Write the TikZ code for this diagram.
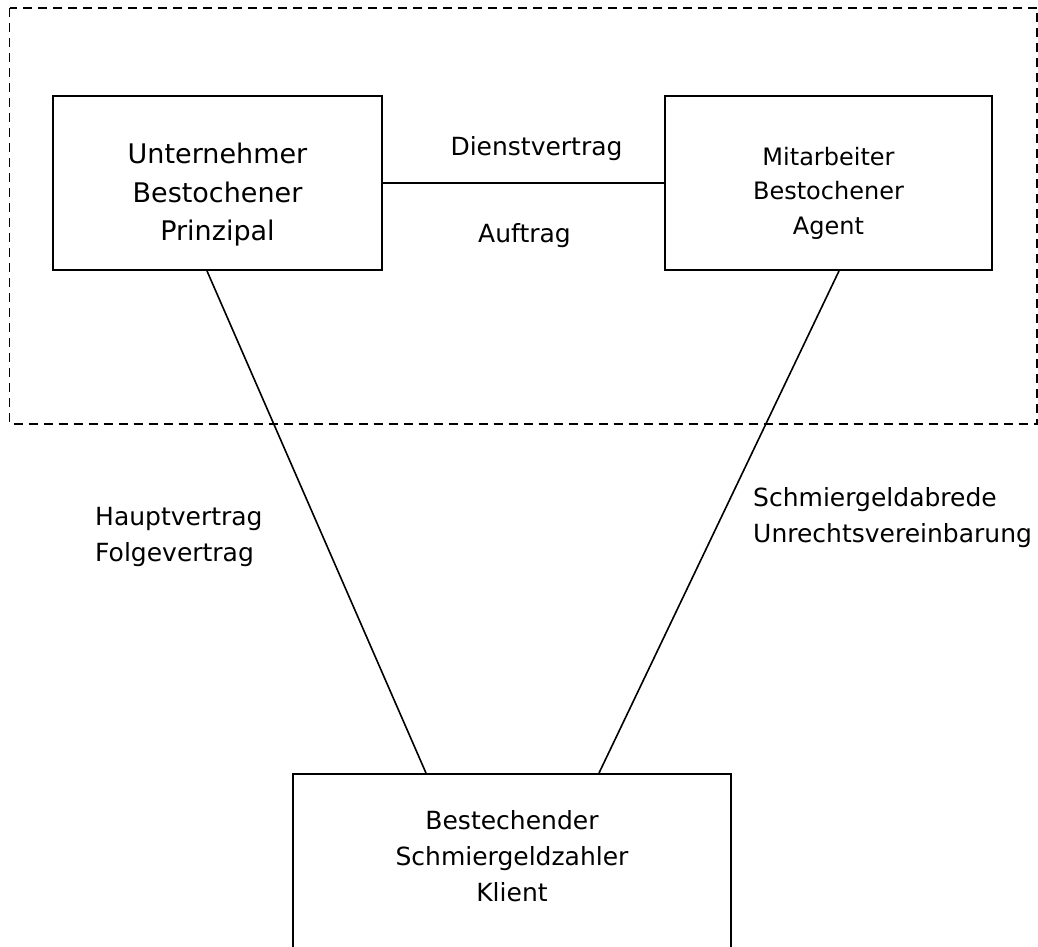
\documentclass[tikz,border=0pt]{standalone}
\usepackage{fontspec}
\setmainfont{DejaVu Sans}
\usetikzlibrary{calc}
\tikzset{
  party/.style={draw,line width=1.9pt,rectangle,inner sep=0pt,
    minimum width=#1,minimum height=174pt},
  partytext/.style={align=center,inner sep=0pt},
  contract/.style={line width=1.6pt},
  contracttext/.style={inner sep=0pt,font=\fontsize{25}{36}\selectfont},
  frame/.style={line width=1.6pt,dash pattern=on 9pt off 6pt}
}
\begin{document}
\begin{tikzpicture}[x=1pt,y=-1pt]
        \useasboundingbox (0,0) rectangle (1038,947);
        % dashed frame round the company
        \draw[frame] (9.5,8) rectangle (1037,424);
        % the three parties
        \node[party=329pt] (principal) at (217.5,183) {};
        \node[party=327pt] (agent) at (828.5,183) {};
        \node[party=438pt] (client) at (512,861) {};
        \node[partytext,font=\fontsize{27}{38.5}\selectfont] (principaltext) at (217.5,195)
            {Unternehmer\\Bestochener\\Prinzipal};
        \node[partytext,font=\fontsize{24}{34.5}\selectfont] (agenttext) at (828.5,193)
            {Mitarbeiter\\Bestochener\\Agent};
        \node[partytext,font=\fontsize{25}{36}\selectfont] (clienttext) at (512,856.5)
            {Bestechender\\Schmiergeldzahler\\Klient};
        % contracts between them
        \draw[contract] (principal.east) -- (agent.west);
        \draw[contract] ($(principal.south)+(-10.5,0)$) -- ($(client.north)+(-86,0)$);
        \draw[contract] ($(agent.south)+(10.5,0)$) -- ($(client.north)+(87,0)$);
        \node[contracttext,anchor=base] (service) at (536.5,155) {Dienstvertrag};
        \node[contracttext,anchor=base] (mandate) at (524.5,242) {Auftrag};
        \node[contracttext,anchor=west,align=left] (main) at (95,537.4)
            {Hauptvertrag\\Folgevertrag};
        \node[contracttext,anchor=west,align=left] (bribe) at (753,518)
            {Schmiergeldabrede\\Unrechtsvereinbarung};
\end{tikzpicture}
\end{document}
